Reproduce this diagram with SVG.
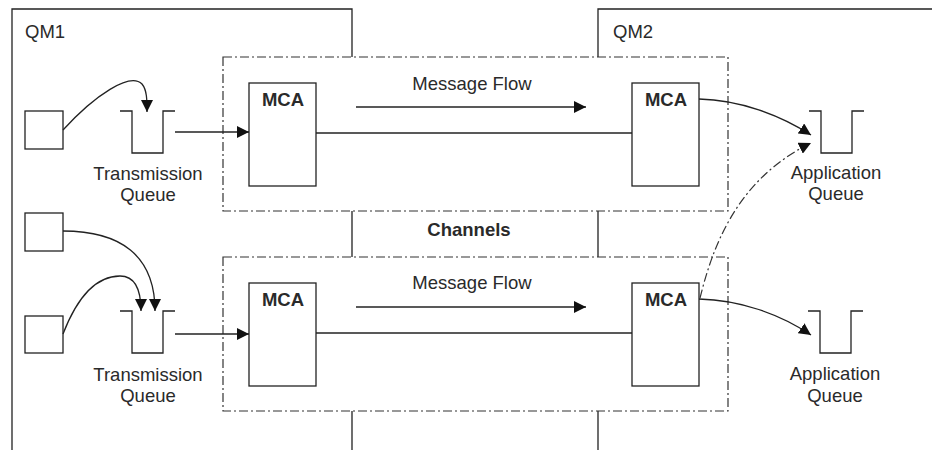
<svg xmlns="http://www.w3.org/2000/svg" width="932" height="450" viewBox="0 0 932 450">
<style>
.ln{fill:none;stroke:#222;stroke-width:1.3}
.dd{fill:none;stroke:#333;stroke-width:1.2;stroke-dasharray:9 3 2 3}
.box{fill:#fff;stroke:#222;stroke-width:1.3}
.t{font-family:"Liberation Sans",Arial,sans-serif;font-size:18.5px;fill:#2a2a2a}
.b{font-family:"Liberation Sans",Arial,sans-serif;font-size:18.5px;font-weight:bold;fill:#2a2a2a}
</style>
<defs>
<marker id="ah" viewBox="0 0 10 10" refX="10" refY="5" markerWidth="12" markerHeight="12" markerUnits="userSpaceOnUse" orient="auto">
<path d="M0,0 L10,5 L0,10 z" fill="#111"/>
</marker>
</defs>
<g id="qm1">
<path class="ln" d="M12,450 V9 H352 V57 M352,211 V257 M352,411 V450"/>
<text class="t" x="25" y="38">QM1</text>
</g>
<g id="qm2">
<path class="ln" d="M932,9 H598 V57 M598,211 V257 M598,411 V450"/>
<text class="t" x="613" y="38">QM2</text>
</g>
<g id="channel1">
<rect class="dd" x="223" y="57" width="505" height="154"/>
<text class="t" x="472" y="90" text-anchor="middle">Message Flow</text>
</g>
<g id="channel2">
<rect class="dd" x="223" y="257" width="505" height="154"/>
<text class="t" x="472" y="289" text-anchor="middle">Message Flow</text>
</g>
<g id="channels-label"><text class="b" x="469" y="236" text-anchor="middle">Channels</text></g>
<g id="mca1"><rect class="box" x="249" y="83" width="67" height="103"/><text class="b" x="283" y="106" text-anchor="middle">MCA</text></g>
<g id="mca2"><rect class="box" x="632" y="83" width="67" height="103"/><text class="b" x="666" y="106" text-anchor="middle">MCA</text></g>
<g id="mca3"><rect class="box" x="249" y="283" width="67" height="103"/><text class="b" x="283" y="306" text-anchor="middle">MCA</text></g>
<g id="mca4"><rect class="box" x="632" y="283" width="67" height="103"/><text class="b" x="666" y="306" text-anchor="middle">MCA</text></g>
<g id="app1"><rect class="box" x="25" y="111" width="38" height="38"/></g>
<g id="app2"><rect class="box" x="25" y="213" width="38" height="38"/></g>
<g id="app3"><rect class="box" x="25" y="316" width="38" height="37"/></g>
<g id="xmitq1">
<path class="ln" d="M120,111 H132 V153 H163 V111 H175"/>
<text class="t" x="148" y="180" text-anchor="middle">Transmission</text>
<text class="t" x="148" y="201" text-anchor="middle">Queue</text>
</g>
<g id="xmitq2">
<path class="ln" d="M120,311 H132 V353 H163 V311 H175"/>
<text class="t" x="148" y="381" text-anchor="middle">Transmission</text>
<text class="t" x="148" y="402" text-anchor="middle">Queue</text>
</g>
<g id="appq1">
<path class="ln" d="M809,111 H821 V153 H852 V111 H864"/>
<text class="t" x="836" y="179" text-anchor="middle">Application</text>
<text class="t" x="836" y="200" text-anchor="middle">Queue</text>
</g>
<g id="appq2">
<path class="ln" d="M808,311 H820 V353 H851 V311 H863"/>
<text class="t" x="835" y="380" text-anchor="middle">Application</text>
<text class="t" x="835" y="402" text-anchor="middle">Queue</text>
</g>
<g id="connectors">
<path class="ln" d="M63,130 C95,95 130,72 142,84 C147,90 147,100 147,112" marker-end="url(#ah)"/>
<path class="ln" d="M175,132 H249" marker-end="url(#ah)"/>
<path class="ln" d="M316,133 H632"/>
<path class="ln" d="M356,107 H586" marker-end="url(#ah)"/>
<path class="ln" d="M699,99 C740,100 780,115 811,135" marker-end="url(#ah)"/>
<path class="dd" d="M700,298 C712,250 735,180 811,143" marker-end="url(#ah)"/>
<path class="ln" d="M63,231 C120,231 155,255 155,311" marker-end="url(#ah)"/>
<path class="ln" d="M63,334 C80,290 100,276 120,276 C138,276 141,295 141,311" marker-end="url(#ah)"/>
<path class="ln" d="M175,334 H249" marker-end="url(#ah)"/>
<path class="ln" d="M316,333 H632"/>
<path class="ln" d="M356,307 H586" marker-end="url(#ah)"/>
<path class="ln" d="M699,299 C740,300 780,314 811,335" marker-end="url(#ah)"/>
</g>
</svg>
